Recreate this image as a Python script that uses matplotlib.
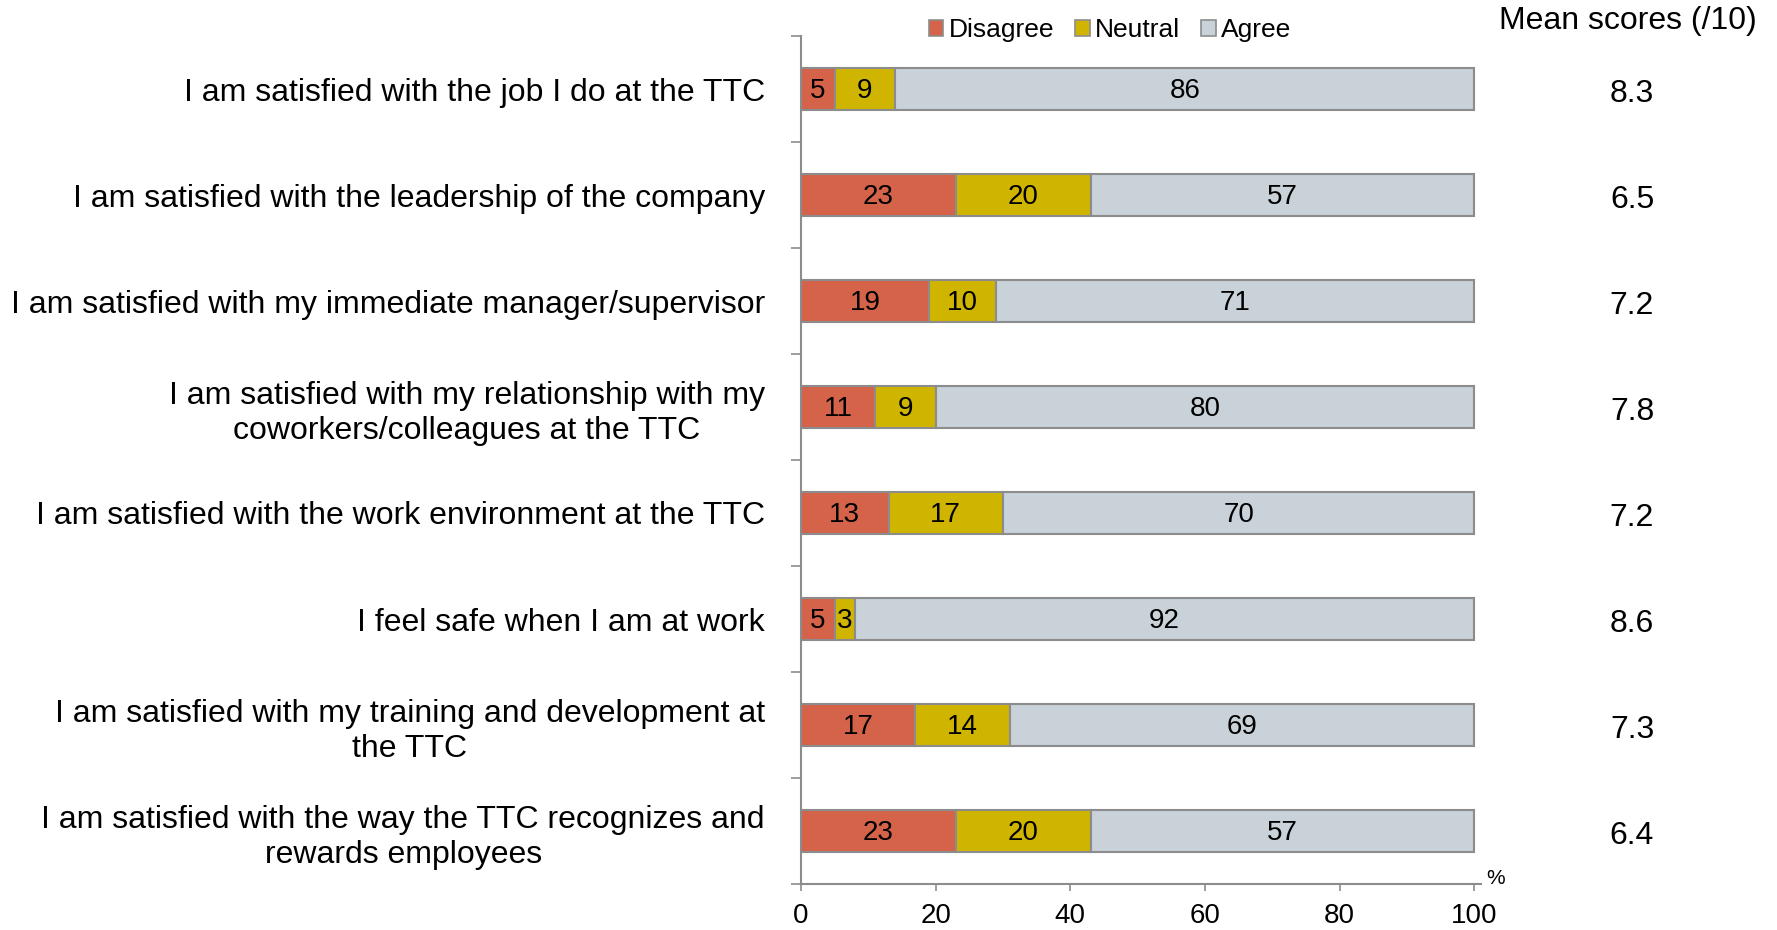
import numpy as np
import matplotlib
matplotlib.use("Agg")
import matplotlib.pyplot as plt
from matplotlib.patches import Patch
import matplotlib.transforms as mtransforms

plt.rcParams['font.family'] = ['Liberation Sans', 'DejaVu Sans']

questions = [
    "I am satisfied with the job I do at the TTC",
    "I am satisfied with the leadership of the company",
    "I am satisfied with my immediate manager/supervisor",
    "I am satisfied with my relationship with my\ncoworkers/colleagues at the TTC",
    "I am satisfied with the work environment at the TTC",
    "I feel safe when I am at work",
    "I am satisfied with my training and development at\nthe TTC",
    "I am satisfied with the way the TTC recognizes and\nrewards employees",
]
disagree = [5, 23, 19, 11, 13, 5, 17, 23]
neutral = [9, 20, 10, 9, 17, 3, 14, 20]
agree = [86, 57, 71, 80, 70, 92, 69, 57]
mean_scores = ["8.3", "6.5", "7.2", "7.8", "7.2", "8.6", "7.3", "6.4"]

c_dis = '#D4634A'
c_neu = '#CFB500'
c_agr = '#C8D2D8'
edge = '#8C8C8C'

fig = plt.figure(figsize=(17.77, 9.30), dpi=100)
ax = fig.add_axes([801 / 1777, 1 - 884 / 930, (1481 - 801) / 1777, (884 - 36) / 930])

y = np.arange(len(questions))
h = 0.4
dis = np.array(disagree)
neu = np.array(neutral)
agr = np.array(agree)
ax.barh(y, dis, h, color=c_dis, edgecolor=edge, linewidth=1.5)
ax.barh(y, neu, h, left=dis, color=c_neu, edgecolor=edge, linewidth=1.5)
ax.barh(y, agr, h, left=dis + neu, color=c_agr, edgecolor=edge, linewidth=1.5)
for lefts, vals in ((np.zeros_like(dis), dis), (dis, neu), (dis + neu, agr)):
    for yi, l, v in zip(y, lefts, vals):
        ax.text(l + v / 2, yi + 0.02, str(v), ha='center', va='center', fontsize=20)

ax.set_xlim(0, 101)
ax.set_ylim(len(questions) - 0.5, -0.5)
ax.set_xticks([0, 20, 40, 60, 80, 100])
ax.tick_params(axis='x', labelsize=20, length=5, width=1.2, color=edge, pad=9)
ax.set_yticks(y)
ax.set_yticklabels(questions, fontsize=23, multialignment='center', linespacing=1.25)
ax.tick_params(axis='y', which='major', length=0, pad=26)
ax.set_yticks(np.arange(-0.5, len(questions)), minor=True)
ax.tick_params(axis='y', which='minor', length=7, width=1.2, color=edge)

for s in ['top', 'right']:
    ax.spines[s].set_visible(False)
for s in ['left', 'bottom']:
    ax.spines[s].set_color(edge)
    ax.spines[s].set_linewidth(1.5)

fig.text(1496 / 1777, 1 - 878 / 930, '%', fontsize=15, ha='center', va='center')

trans = mtransforms.blended_transform_factory(fig.transFigure, ax.transData)
for yi, m in zip(y, mean_scores):
    ax.text(1632 / 1777, yi + 0.05, m, transform=trans, fontsize=23, ha='center', va='center')
fig.text(1628 / 1777, 1 - 21 / 930, 'Mean scores (/10)', fontsize=23, ha='center', va='center')

handles = [Patch(facecolor=c, edgecolor=edge, linewidth=1.2) for c in (c_dis, c_neu, c_agr)]
fig.legend(handles, ['Disagree', 'Neutral', 'Agree'], loc='center',
           bbox_to_anchor=(1110 / 1777, 1 - 30 / 930), ncol=3, frameon=False,
           fontsize=19, handlelength=0.55, handleheight=0.55, handletextpad=0.2,
           columnspacing=0.8)

fig.savefig('out.png', dpi=100)
